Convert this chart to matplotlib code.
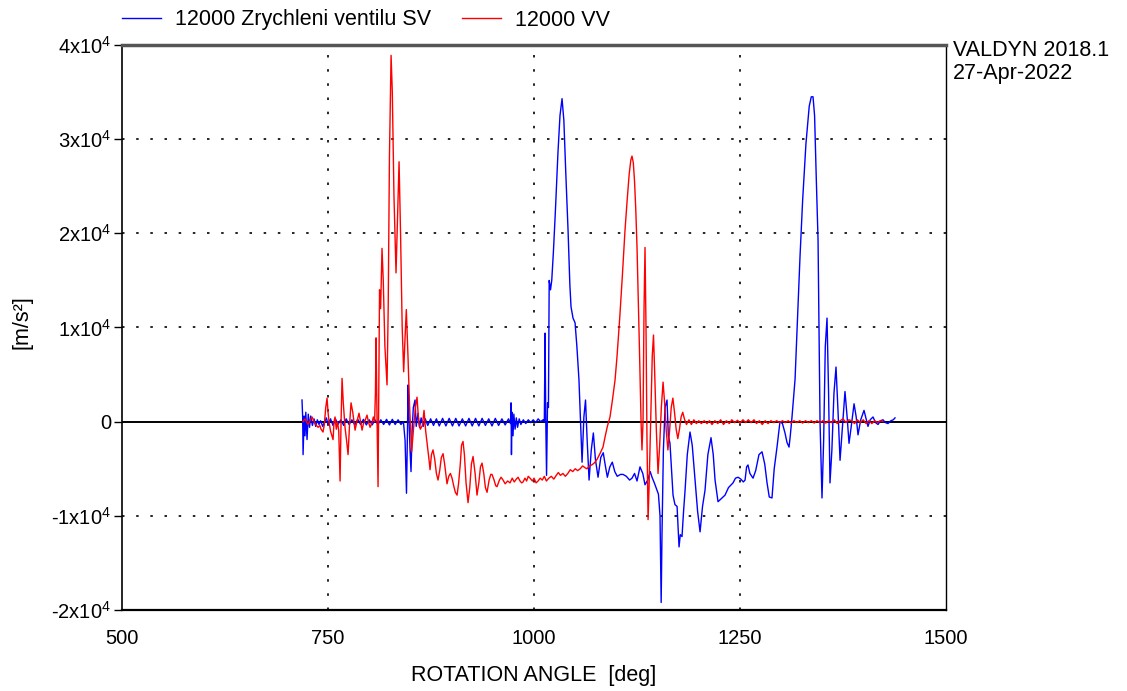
import matplotlib
matplotlib.use("Agg")
import matplotlib.pyplot as plt
from matplotlib.lines import Line2D

plt.rcParams["font.family"] = ["Liberation Sans", "DejaVu Sans"]
plt.rcParams["mathtext.fontset"] = "custom"
plt.rcParams["mathtext.rm"] = "Liberation Sans"
plt.rcParams["mathtext.default"] = "regular"

# 12000 Zrychleni ventilu SV (blue)
sv_angle = [
    718.4, 719.2, 719.7, 721, 722, 723, 724.5, 726, 727.5, 729, 731, 733, 735, 737, 739, 741,
    743.5, 746, 748, 750, 753, 756, 759, 762, 765.5, 769, 772, 775.5, 779, 782.5, 786, 789.5,
    793, 796.5, 800, 803.5, 807, 810.5, 814, 817.5, 821, 824.5, 828, 831.5, 835, 838.5, 841.5,
    843.5, 845.2, 846.5, 847.1, 848, 849.5, 850.7, 852, 853.5, 855.6, 857, 859.2, 861, 863,
    865.5, 868, 871, 874.5, 878, 881.5, 885, 889, 893, 897, 901, 905, 909, 913, 917, 921, 925,
    929, 933, 937, 941, 945, 949, 953, 957, 961, 965, 969, 971.5, 972.1, 972.6, 973.3, 974.5,
    975.5, 977, 978.5, 980, 982, 984, 987, 990, 993, 996, 999, 1002, 1005, 1008, 1011, 1012.5,
    1013.4, 1014.2, 1015.2, 1016.4, 1017.5, 1018.4, 1020, 1021.5, 1023.5, 1026, 1029, 1031.5,
    1034, 1036.2, 1038.5, 1041.3, 1043.5, 1044.9, 1047.3, 1049.8, 1052, 1054.5, 1056.5, 1058.3,
    1060.5, 1062.5, 1064.5, 1066.8, 1069.5, 1072, 1074.5, 1077.7, 1081, 1084, 1086.2, 1089,
    1092, 1095, 1098, 1101, 1105, 1108, 1112, 1116, 1118.9, 1122, 1125, 1128.6, 1132, 1134.7,
    1138, 1141, 1143.2, 1146, 1149.3, 1151, 1152.9, 1154.3, 1155.3, 1157, 1159, 1161.4, 1163,
    1165, 1168.7, 1171, 1173.6, 1176, 1177.5, 1179.6, 1181.5, 1183.3, 1186, 1189.3, 1192,
    1195.4, 1198.5, 1201.5, 1204.5, 1207.5, 1211, 1214.8, 1217.5, 1219.7, 1223.3, 1227, 1231.8,
    1236, 1241.5, 1244.5, 1247.6, 1251, 1254, 1256.1, 1258, 1259.7, 1262, 1265.8, 1269, 1273,
    1276.7, 1280, 1282.8, 1285.5, 1288.8, 1291.5, 1294.9, 1298.5, 1301.5, 1304.6, 1307, 1309.5,
    1311, 1313.1, 1316.8, 1320, 1322.8, 1326, 1330, 1334, 1336.5, 1338.6, 1340.5, 1342.5,
    1344.7, 1347.1, 1349.5, 1351.5, 1353.5, 1355.6, 1357.5, 1359.2, 1361.5, 1364, 1366.5, 1369,
    1371.4, 1374, 1377.4, 1380, 1382.3, 1385, 1388.4, 1391, 1393.2, 1396.5, 1400.5, 1403,
    1405.3, 1408, 1411.4, 1414.5, 1417.5, 1420.5, 1423.5, 1426.5, 1429.6, 1433, 1436, 1438.1,
]
sv_accel = [
    2300, 500, -3500, 600, -1500, 1000, -1900, 800, -600, 600, -400, 300, -500, 200, -300, 100,
    -500, 0, 400, -300, 300, -400, 300, -300, 200, -400, 300, -300, 200, -350, 250, -300,
    250, -350, 200, -350, 200, -300, 200, -300, 250, -350, 250, -300, 200, -300, 0,
    -2000, -7600, -500, 3900, 1000, -3000, -5300, -1000, 1500, 2300, -500, 900, -600, 400,
    -500, 300, -400, 300, -400, 300, -450, 350, -450, 350, -450, 350, -450, 300, -450, 350, -450,
    350, -450, 350, -400, 300, -450, 350, -400, 300, -350, 300, -200, 2000, -3500, 1000, -1500,
    800, -800, 400, -600, 300, -300, 200, -200, 200, -100, 200, -100, 300, 0, 200, 0,
    9400, 500, -5700, 2000, 1500, 15000, 14000, 15000, 18000, 22500, 28500, 32500,
    34300, 32000, 26500, 20300, 14500, 12200, 11000, 10500, 8000, 4500, 0, -4300,
    500, 2300, -2000, -6200, -3000, -1200, -4000, -5900, -3800, -3300, -4500, -5900,
    -4800, -4300, -5300, -5800, -5600, -5600, -5800, -6200, -6000, -5500, -6300, -4800, -5500, -6700,
    -6200, -5300, -5900, -6500, -7300, -7700, -10000, -19200, -12000, -3000, 1500, 2300, -1500,
    -2300, -7800, -8800, -9000, -13300, -12000, -12200, -9500, -7300, -3500, -1100, -2500,
    -6200, -9500, -11700, -9000, -7300, -3500, -1700, -3500, -6200, -8500, -8200, -7800,
    -7000, -6500, -6000, -5900, -6100, -6400, -6200, -4800, -4600, -5500, -6000, -5200, -3500,
    -3200, -4500, -6500, -8000, -8100, -5000, -2700, 0, -200, -1200, -2200, -2700,
    -1500, 500, 4500, 11500, 17500, 23500, 29500, 33500, 34500, 34500, 32500, 26000,
    19300, 0, -8100, -2000, 8000, 11000, 3000, -6500, -3000, 3000, 5800, 1000,
    -4100, -1000, 3200, 500, -2300, -500, 1900, 500, -1400, 200, 1200, 300,
    -500, 200, 500, -100, -300, 100, 200, -100, -200, 100, 200, 400,
]

# 12000 VV (red)
vv_angle = [
    719.7, 722, 725.7, 728, 730.6, 733, 735, 737.9, 740, 741.5, 743.9, 745.5, 747.2, 748.8, 750,
    751.2, 753, 756.1, 757.3, 758.5, 760, 761.5, 763, 764.6, 765.8, 767, 768.5, 770.6, 772.5,
    774.3, 776, 777.9, 780, 782.8, 785, 787.6, 789.5, 791.3, 793, 794.9, 797.3, 799, 801, 803,
    805, 806.5, 807.5, 808.3, 809.5, 810.7, 811.5, 812.5, 813.8, 815.5, 817, 819, 821.6, 823,
    824.5, 826.5, 828, 830, 832.5, 834.5, 836.2, 838, 840, 841.8, 843.5, 845, 847, 849, 851.5,
    853.5, 856, 858, 860, 862, 864.5, 866.5, 868.5, 870.5, 872.5, 873.8, 875.5, 877.4, 879.5,
    881.5, 883.5, 885.5, 887.5, 889.6, 891.5, 894.4, 896.5, 898.5, 900.5, 902.5, 904.5, 906.6,
    908.5, 910.5, 912, 913.8, 915.5, 917.5, 919.9, 922, 924, 926, 928.5, 930.8, 933, 935, 936.9,
    939, 941, 943, 945.5, 947.5, 949, 951.5, 953.5, 955.1, 958, 960, 962.4, 965, 968, 970.9,
    973.5, 976, 978.5, 980.6, 983, 985, 986.7, 989, 991, 993, 995.2, 998, 1000, 1002.5, 1004.9,
    1007.5, 1010, 1012.5, 1015, 1018, 1021, 1024, 1027, 1029.5, 1032, 1035, 1038, 1041, 1044,
    1047, 1050, 1053, 1056, 1059, 1062, 1064.3, 1067, 1070, 1073, 1076.5, 1080, 1083.7, 1086.5,
    1089, 1092.2, 1095, 1098.3, 1100.7, 1104, 1107, 1110.4, 1113, 1115.5, 1117.5, 1118.9,
    1120.5, 1122, 1123.5, 1125, 1126.5, 1128, 1129.9, 1131, 1132.3, 1133.5, 1134.7, 1135.9,
    1137.1, 1138.4, 1139.6, 1141.5, 1143.5, 1145, 1146.5, 1148.5, 1150.5, 1152.5, 1154.5,
    1156.6, 1158.5, 1160.5, 1162.5, 1164.5, 1166.5, 1168.5, 1170.5, 1172.5, 1174.5, 1176.5,
    1178.5, 1180.5, 1182.5, 1185, 1188, 1191, 1194, 1197, 1200, 1203, 1206.5, 1210, 1213, 1216,
    1219.5, 1223, 1226.5, 1230, 1233.5, 1237, 1240, 1243.5, 1247, 1250, 1253.5, 1257, 1260,
    1263.5, 1267, 1270, 1273.5, 1277, 1280.5, 1284, 1287.5, 1291, 1294.5, 1298, 1301.5, 1305,
    1308.5, 1312, 1315.5, 1319, 1322.5, 1326, 1329.5, 1333, 1336.5, 1340, 1343.5, 1347, 1350.5,
    1354, 1357.5, 1361, 1364.5, 1368, 1371.5, 1375, 1378.5, 1382, 1385.5, 1389, 1392.5, 1396,
    1399.5, 1403, 1406.5, 1410, 1413.5, 1417, 1420, 1423.5,
]
vv_accel = [
    0, 300, -300, 100, 500, 0, -300, -600, -400, -800, -1100, -300, 1500, 2500, 1000,
    0, -1000, -1900, 0, 500, -800, 0, -1000, -6300, 0, 4600, 2000, -600, -2000,
    -3500, -500, 2000, 1000, -900, 0, 900, 0, -900, -200, 100, 700, 0, -600, -200,
    500, 0, 3000, 8900, 0, -6900, 2000, 14000, 12000, 18400, 15000, 8000, 3900, 12000,
    28000, 38900, 35000, 24000, 15800, 22000, 27600, 20000, 10000, 5300, 9000, 11900, 7000, 1500, -3200,
    -1000, 1500, 2600, 0, -800, -400, 1200, -1000, -2500, -4000, -5100, -3500, -3000, -4000,
    -5500, -6200, -5200, -3800, -3400, -4500, -6600, -5800, -5500, -6000, -6800, -7500, -7800,
    -6500, -4500, -2500, -2100, -3500, -6500, -8600, -7000, -4500, -3700, -5500, -7800, -6500, -4800, -4400,
    -5500, -7000, -7500, -6200, -5600, -5600, -6200, -6800, -6900, -6200, -5900, -6200, -6600, -6300, -6500,
    -6000, -6400, -6100, -5900, -6300, -6500, -6400, -6000, -6300, -5800, -6000, -6300, -6000, -6500, -6300,
    -6000, -6200, -5800, -6300, -6000, -5800, -6100, -5700, -5400, -5700, -5500, -5800, -5500, -5100,
    -5300, -5000, -5200, -5000, -4700, -4900, -5000, -4700, -4600, -4400, -4000, -3400, -2700, -1500,
    -500, 500, 2200, 4400, 6900, 11000, 15200, 20300, 23500, 26300, 27800, 28200,
    27500, 25500, 22500, 18500, 13000, 7500, 0, -3000, 0, 12000, 18500, 10000,
    -2000, -10400, -7000, 0, 7000, 9200, 5000, -1000, -5500, -2500, 1500,
    4200, 2000, -1000, -3000, -1000, 1500, 2500, 1000, -800, -1800, -800,
    500, 1000, 300, -300, 200, -300, 200, -200, 100, -200, 100, -200, 100, -300,
    100, -200, 200, -300, 100, -200, 200, -100, 150, -150, 200, -100, 200,
    -100, 200, -200, 100, -300, 100, -200, 100, -100, 100, -100, 100, -100,
    100, -150, 100, -100, 100, -150, 100, -100, 100, -150, 100, -100, 100,
    -150, 100, -100, 200, -200, 100, 300, -100, 200, 100, -200, 200, -100,
    200, -200, 100, -200, 100, -100, 100, 0,
]

x_ticks = [500, 750, 1000, 1250, 1500]
y_ticks = [-20000, -10000, 0, 10000, 20000, 30000, 40000]
y_tick_labels = ["-2x10$^4$", "-1x10$^4$", "0", "1x10$^4$", "2x10$^4$", "3x10$^4$", "4x10$^4$"]

fig = plt.figure(figsize=(11.27, 6.91), dpi=100)
fig.patch.set_facecolor("white")
ax = fig.add_axes([0.1083, 0.1172, 0.7311, 0.8177])

ax.plot(sv_angle, sv_accel, color="#0000ff", linewidth=1.0, zorder=3)
ax.plot(vv_angle, vv_accel, color="#ff0000", linewidth=1.0, zorder=4)
ax.axhline(0, color="black", linewidth=1.4, zorder=2)

ax.set_xlim(500, 1500)
ax.set_ylim(-20000, 40000)
ax.set_xticks(x_ticks)
ax.set_yticks(y_ticks)
ax.set_yticklabels(y_tick_labels)
ax.tick_params(axis="both", direction="out", width=1.0, labelsize=14.5, colors="black")
ax.tick_params(axis="x", length=0, pad=14)
ax.tick_params(axis="y", length=6, pad=2)

# dotted grid at the inner ticks only
for yv in [-10000, 10000, 20000, 30000]:
    ax.axhline(yv, color="black", linewidth=1.2, linestyle=(0, (1.5, 7)), zorder=1)
for xv in [750, 1000, 1250]:
    ax.axvline(xv, color="black", linewidth=1.2, linestyle=(0, (1.5, 7)), zorder=1)

ax.spines["top"].set_color("#555555")
ax.spines["top"].set_linewidth(2.5)
ax.spines["left"].set_linewidth(1.2)
ax.spines["bottom"].set_linewidth(1.6)
ax.spines["right"].set_linewidth(1.0)

fig.text(534 / 1127, 1 - 675 / 691, "ROTATION ANGLE  [deg]", ha="center", va="center", fontsize=15.5)
fig.text(22 / 1127, 1 - 322 / 691, "[m/s²]", ha="center", va="center", rotation=90, fontsize=15.5)
fig.text(953 / 1127, 1 - 40 / 691, "VALDYN 2018.1\n27-Apr-2022", ha="left", va="top",
         fontsize=15.5, linespacing=1.15)

handles = [Line2D([], [], color="#0000ff", linewidth=1.0),
           Line2D([], [], color="#ff0000", linewidth=1.0)]
fig.legend(handles, ["12000 Zrychleni ventilu SV", "12000 VV"], loc="center left",
           bbox_to_anchor=(0.095, 1 - 20 / 691), ncol=2, frameon=False, fontsize=15.5,
           handlelength=1.8, handletextpad=0.65, columnspacing=1.45, borderpad=0.2)

fig.savefig("out.png", dpi=100, facecolor="white")
